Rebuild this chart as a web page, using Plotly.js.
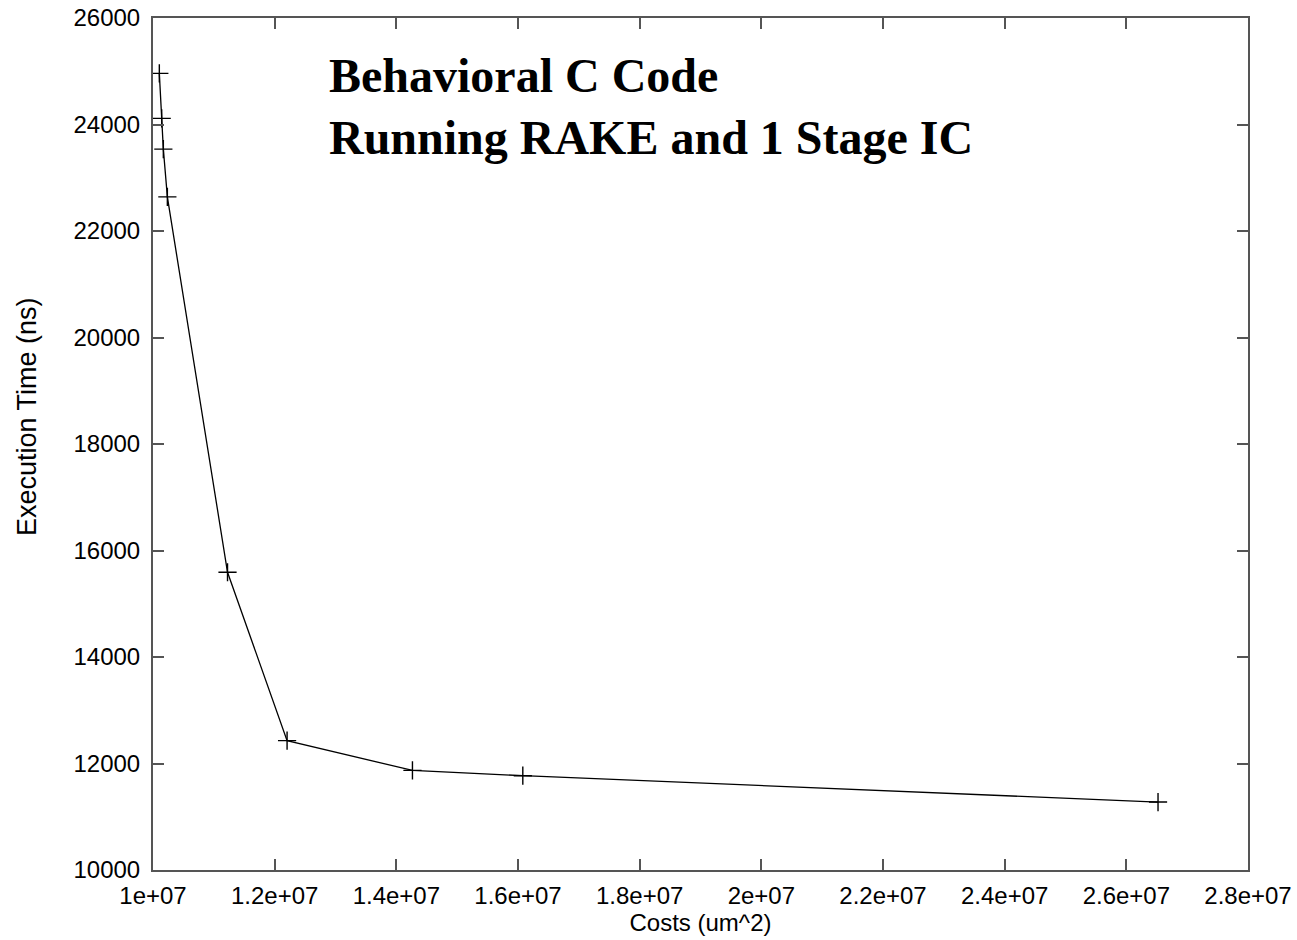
<!DOCTYPE html>
<html>
<head>
<meta charset="utf-8">
<script src="https://cdn.plot.ly/plotly-3.0.1.min.js"></script>
<style>html,body{margin:0;padding:0;background:#fff;}#chart{width:1297px;height:940px;}</style>
</head>
<body>
<div id="chart"></div>
<script>
// Data
const costs = [10104000, 10143000, 10170000, 10236000, 11225000, 12204000, 14265000, 16079000, 26521000];
const execTimes = [24960, 24115, 23538, 22640, 15592, 12429, 11870, 11771, 11276];

const xTickVals = [1e7, 1.2e7, 1.4e7, 1.6e7, 1.8e7, 2e7, 2.2e7, 2.4e7, 2.6e7, 2.8e7];
const xTickText = ["1e+07", "1.2e+07", "1.4e+07", "1.6e+07", "1.8e+07", "2e+07", "2.2e+07", "2.4e+07", "2.6e+07", "2.8e+07"];
const yTickVals = [10000, 12000, 14000, 16000, 18000, 20000, 22000, 24000, 26000];

const titleLines = ["Behavioral C Code", "Running RAKE and 1 Stage IC"];
const xTitle = "Costs (um^2)";
const yTitle = "Execution Time (ns)";

const tickFont = {family: "Liberation Sans, Arial, sans-serif", size: 24, color: "#000"};

const trace = {
  x: costs,
  y: execTimes,
  type: "scatter",
  mode: "lines+markers",
  line: {color: "#000", width: 1.3},
  marker: {symbol: "cross-thin-open", size: 13, color: "#000", line: {color: "#000", width: 1.4}},
  showlegend: false,
  hoverinfo: "x+y"
};

const axisCommon = {
  showgrid: false,
  zeroline: false,
  showline: true,
  linecolor: "#555",
  linewidth: 2,
  mirror: "allticks",
  ticks: "inside",
  ticklen: 11,
  tickwidth: 2,
  tickcolor: "#555",
  tickfont: tickFont
};

const layout = {
  width: 1297,
  height: 940,
  paper_bgcolor: "#fff",
  plot_bgcolor: "#fff",
  margin: {l: 153, r: 49, t: 18, b: 70},
  xaxis: Object.assign({}, axisCommon, {
    range: [1e7, 2.8e7],
    tickmode: "array",
    tickvals: xTickVals,
    ticktext: xTickText,
    ticklabelstandoff: 3,
    title: {text: xTitle, font: {family: "Liberation Sans, Arial, sans-serif", size: 24, color: "#000"}, standoff: 1}
  }),
  yaxis: Object.assign({}, axisCommon, {
    range: [10000, 26000],
    tickmode: "array",
    tickvals: yTickVals,
    ticktext: yTickVals.map(String),
    ticklabelstandoff: 6
  }),
  annotations: [
    {
      text: "<b>" + titleLines[0] + "</b>",
      xref: "paper", yref: "paper",
      x: (328 - 153) / 1095, y: 1 - (103 - 18) / 852,
      xanchor: "left", yanchor: "bottom",
      showarrow: false,
      font: {family: "Liberation Serif, Times New Roman, serif", size: 48, color: "#000"},
      borderpad: 0
    },
    {
      text: "<b>" + titleLines[1] + "</b>",
      xref: "paper", yref: "paper",
      x: (328 - 153) / 1095, y: 1 - (165 - 18) / 852,
      xanchor: "left", yanchor: "bottom",
      showarrow: false,
      font: {family: "Liberation Serif, Times New Roman, serif", size: 48, color: "#000"},
      borderpad: 0
    },
    {
      text: yTitle,
      xref: "paper", yref: "paper",
      x: (27 - 153) / 1095, y: 1 - (417 - 18) / 852,
      xanchor: "center", yanchor: "middle",
      textangle: -90,
      showarrow: false,
      font: {family: "Liberation Sans, Arial, sans-serif", size: 27, color: "#000"}
    }
  ]
};

Plotly.newPlot("chart", [trace], layout, {displayModeBar: false, staticPlot: true});
</script>
</body>
</html>
